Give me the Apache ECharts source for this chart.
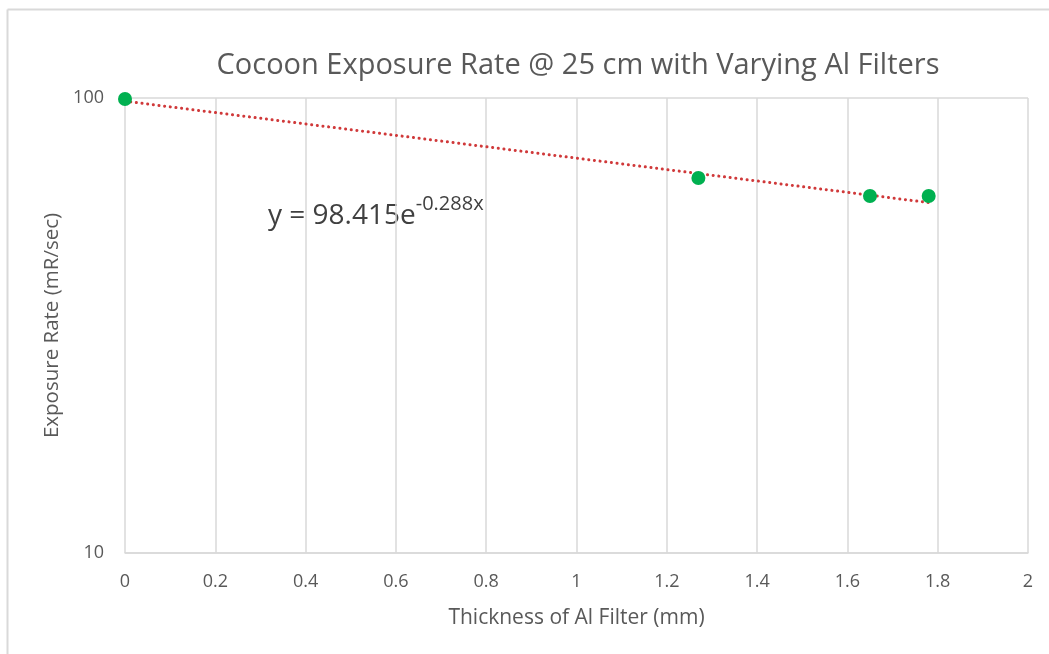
<!DOCTYPE html>
<html><head><meta charset="utf-8">
<script src="https://cdn.jsdelivr.net/npm/echarts@6/dist/echarts.min.js"></script>
<style>html,body{margin:0;padding:0;background:#fff}#c{width:1049px;height:654px}</style>
</head><body><div id="c"></div>
<script>
var thickness = [0, 1.27, 1.65, 1.78];
var exposure = [99.5, 66.7, 60.9, 60.9];
var trendX = [0, 1.78];
var trendY = [98.415, 58.9];
var xTicks = [0, 0.2, 0.4, 0.6, 0.8, 1, 1.2, 1.4, 1.6, 1.8, 2];
var yTicks = [10, 100];

var FONT = '"Open Sans", sans-serif';
var chart = echarts.init(document.getElementById('c'));
chart.setOption({
  animation: false,
  title: {
    text: 'Cocoon Exposure Rate @ 25 cm with Varying Al Filters',
    left: 573, top: 46, textAlign: 'center',
    textStyle: {fontFamily: FONT, fontSize: 29, fontWeight: 'normal', color: '#595959'}
  },
  grid: {left: 125, right: 21, top: 98, bottom: 101},
  xAxis: {
    type: 'value', min: 0, max: 2, interval: 0.2,
    name: 'Thickness of Al Filter (mm)', nameLocation: 'middle', nameGap: 55,
    nameTextStyle: {fontFamily: FONT, fontSize: 21, color: '#595959'},
    axisLine: {show: true, lineStyle: {color: '#d9d9d9', width: 1.5}},
    axisTick: {show: false},
    axisLabel: {fontFamily: FONT, fontSize: 18, color: '#595959', margin: 20,
      formatter: function(v){ return xTicks.indexOf(+v.toFixed(1)) >= 0 ? String(+v.toFixed(1)) : ''; }},
    splitLine: {show: true, lineStyle: {color: '#d9d9d9', width: 1.5}}
  },
  yAxis: {
    type: 'log', logBase: 10, min: yTicks[0], max: yTicks[1],
    name: 'Exposure Rate (mR/sec)', nameLocation: 'middle', nameGap: 62,
    nameTextStyle: {fontFamily: FONT, fontSize: 20.5, color: '#595959'},
    axisLine: {show: false},
    axisTick: {show: false},
    axisLabel: {fontFamily: FONT, fontSize: 18, color: '#595959', margin: 21},
    splitLine: {show: true, lineStyle: {color: '#d9d9d9', width: 1.5}}
  },
  series: [
    {
      type: 'line', data: trendX.map(function(x,i){return [x, trendY[i]];}),
      symbol: 'none', z: 2,
      lineStyle: {color: '#d0393a', width: 3, type: [0.1, 5.6], cap: 'round'}
    },
    {
      type: 'scatter', data: thickness.map(function(x,i){return [x, exposure[i]];}),
      symbolSize: 14, z: 3,
      itemStyle: {color: '#00b050', opacity: 1}
    }
  ],
  graphic: [
    {type: 'line', shape: {x1: 7.5, y1: 9.5, x2: 1049, y2: 9.5}, style: {stroke: '#d9d9d9', lineWidth: 2}},
    {type: 'line', shape: {x1: 7.5, y1: 9.5, x2: 7.5, y2: 654}, style: {stroke: '#d9d9d9', lineWidth: 2}},
    {type: 'text', left: 268, top: 194, style: {
      text: '{b|y = 98.415e}{s|-0.288x}',
      rich: {
        b: {fontFamily: FONT, fontSize: 28, fill: '#404040', verticalAlign: 'bottom'},
        s: {fontFamily: FONT, fontSize: 20, fill: '#404040', verticalAlign: 'top', padding: [0,0,16,0]}
      }
    }}
  ]
});
</script>
</body></html>
